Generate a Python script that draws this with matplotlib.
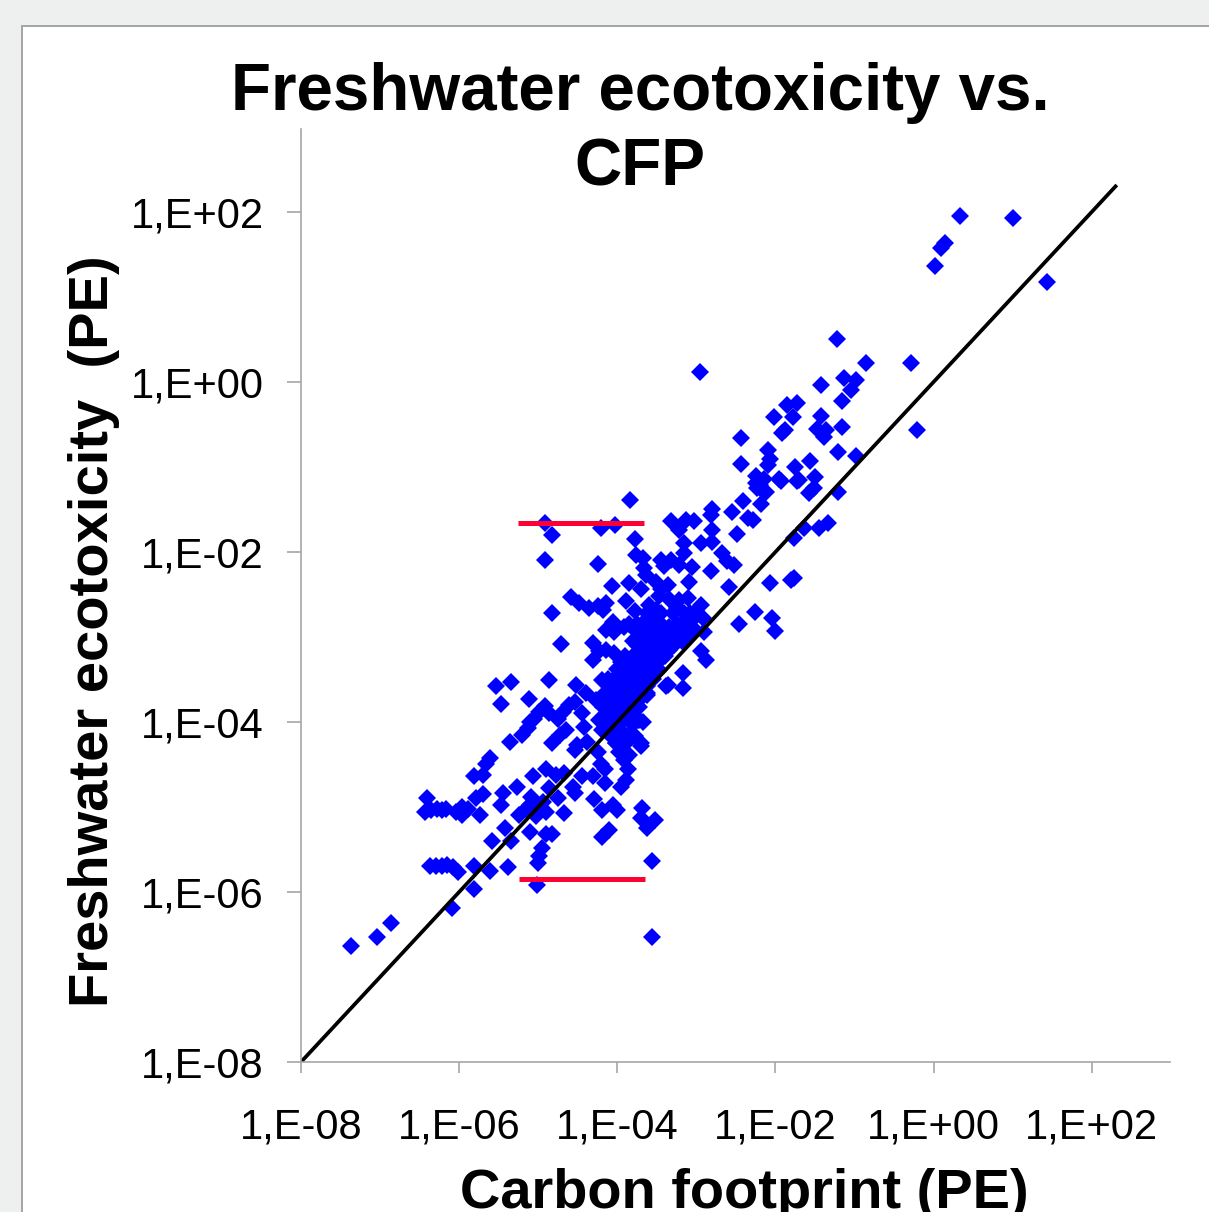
import numpy as np
import matplotlib
matplotlib.use('Agg')
import matplotlib.pyplot as plt
from matplotlib.patches import Rectangle

plt.rcParams['font.family'] = ['Liberation Sans', 'DejaVu Sans']

W, H = 1209, 1212

# Values, as log10 of PE
cfp_exp = [
    -7.37, -7.04, -6.86, -6.09, -5.81, -5.02, -3.56, -3.56,
    -6.37, -6.29, -6.22, -6.15, -6.08, -6.02, -5.81, -5.61, -5.38, -5.00, -4.99, -4.95,
    -5.59, -5.34, -5.42, -5.11, -4.90, -4.83, -4.19, -4.11, -3.62, -3.52, -3.70, -3.69,
    -6.41, -6.43, -6.35, -6.28, -6.22, -6.16, -6.04, -5.97, -5.97, -5.89, -5.73,
    -5.79, -5.70, -5.47, -5.44, -5.27, -5.07, -5.81, -5.70, -5.66, -5.61, -5.36,
    -5.47, -5.12, -5.54, -5.34, -4.86,
    -5.20, -5.13, -5.11, -5.05, -4.99, -4.92, -4.86, -4.75, -4.69, -4.61, -4.54,
    -4.82, -4.73, -4.65, -4.44, -4.42, -4.53, -4.51, -4.38, -4.25, -4.21, -4.16,
    -4.90, -4.78, -4.67, -4.56, -4.54, -4.44, -4.31, -4.15, -4.29,
    -3.95, -3.89, -3.87, -4.19, -4.06, -4.00,
    -5.09, -5.15, -5.24, -5.03, -4.90, -4.86, -4.75, -4.94, -4.68, -5.11, -5.01,
    -4.02, -3.93, -3.85, -3.70, -3.85, -3.97, -3.74, -3.68, -3.83,
    -4.23, -4.10, -4.19, -4.06, -3.93, -3.85, -3.72, -3.62, -3.38, -4.52, -4.40, -4.27,
    -3.84, -4.91, -4.82, -4.21, -4.03, -3.78, -4.91, -4.24,
    -3.76, -3.68, -3.66, -3.64, -3.45, -3.32, -3.41, -3.22, -3.06,
    -4.07, -3.85, -3.70, -3.51, -3.36, -3.45, -3.09, -2.81, -2.59,
    -4.59, -4.49, -4.36, -4.25, -4.14, -4.18, -4.82, -3.89, -3.78,
    -3.60, -3.47, -3.51, -3.34, -3.22, -3.11, -3.24, -3.15, -2.94, -3.00, -2.92,
    -4.06, -4.14, -4.04, -3.91, -4.71, -4.31, -4.23, -4.31, -4.14, -4.04,
    -3.68, -3.51, -3.34, -3.17, -3.72, -3.55, -3.38, -3.24, -3.68, -3.51, -3.34,
    -3.05, -3.09, -2.90, -2.94, -2.88, -2.46, -2.26, -2.04, -2.00,
    -2.07, -1.80, -1.76, -1.76,
    -3.81, -3.68, -3.55, -3.43, -3.85, -3.72, -3.60, -3.47, -4.06, -3.93, -3.81, -3.68, -4.19, -3.97,
    -3.17, -3.36, -3.17, -3.62, -3.72,
    -4.06, -3.93, -3.81, -4.02, -3.87, -3.72, -4.10, -3.97, -3.85, -4.02, -3.89, -3.70,
    -3.32, -3.22, -3.13, -3.03, -3.15, -3.15, -2.94, -2.80, -2.80, -2.80, -2.82,
    -2.67, -2.61, -2.52, -2.55, -2.41, -2.35, -2.29, -2.48,
    -2.18, -2.18, -2.12, -2.25, -1.93, -1.73,
    -2.95, -1.22, -0.85, -0.29, -0.21, 0.33, 1.01, 0.15, 0.10, 0.02, 1.43,
    -1.42, -1.13, -0.98, -1.05, -1.16, -1.86, -1.73, -1.78, -2.02, -1.88, -1.92,
    -1.42, -1.47, -1.36, -1.38, -1.16, -2.43, -1.21, -0.98, -2.10, -2.07, -2.09, -2.44,
    -1.56, -1.75, -1.70, -1.50, -1.95, -2.25, -2.14, -2.20, -2.14, -2.23,
    -1.51, -1.58, -1.21, -1.34, -1.45, -1.64,
    # dense core along the 1:1 line
    -3.85, -3.75, -3.62, -3.45, -3.25, -3.10,
    -3.78, -3.65, -3.55, -3.42, -3.30, -3.18, -3.02,
    -3.80, -3.62, -3.48, -3.40, -3.30, -3.18,
    -3.75, -3.60, -3.44, -3.28,
    -3.90, -3.75, -3.62, -3.50, -3.40,
    -3.95, -3.85, -3.75, -3.60, -3.48,
    -4.00, -3.90, -3.78, -3.65, -3.55,
    -4.12, -4.00, -3.88, -3.78, -3.66, -3.55,
    -4.10, -3.85, -3.75, -3.62,
    -4.15, -4.02, -3.92, -3.78, -3.68,
    -4.12, -3.90, -3.80,
    -4.18, -4.05, -3.82, -3.72,
    -4.00, -3.92, -3.82,
    -4.12, -3.98, -3.80,
    -4.08, -3.95, -3.78,
    -3.98, -3.90, -3.92,
    -3.62, -3.45, -3.30, -3.08,
]
ecotox_exp = [
    -6.63, -6.53, -6.36, -6.19, -5.96, -5.92, -6.53, -5.64,
    -5.69, -5.69, -5.69, -5.68, -5.71, -5.76, -5.70, -5.75, -5.71, -5.66, -5.58, -5.48,
    -5.40, -5.40, -5.25, -5.29, -5.32, -5.32, -5.35, -5.27, -5.25, -5.15, -5.13, -5.01,
    -4.89, -5.06, -5.04, -5.02, -5.03, -5.02, -5.06, -5.00, -5.09, -5.02, -5.10,
    -4.89, -4.85, -4.98, -4.84, -4.77, -4.63, -4.64, -4.62, -4.49, -4.42, -4.24,
    -3.79, -3.73, -3.58, -3.53, -3.51,
    -4.15, -4.07, -4.00, -3.96, -3.88, -3.81, -3.90, -3.96, -3.88, -3.80, -3.76,
    -4.25, -4.15, -4.09, -3.89, -4.06, -4.33, -4.27, -4.24, -4.35, -4.49, -4.55,
    -4.55, -4.62, -4.60, -4.76, -4.84, -4.64, -4.64, -4.72, -4.91,
    -4.76, -4.68, -4.55, -5.04, -4.98, -5.04,
    -4.88, -5.02, -5.09, -5.11, -5.06, -4.78, -4.90, -4.94, -5.07, -4.98, -4.98,
    -4.25, -4.33, -4.39, -4.28, -4.17, -4.09, -3.98, -4.00, -3.86,
    -3.98, -3.90, -4.09, -3.74, -3.62, -3.58, -3.54, -3.68, -3.58, -3.56, -3.66, -3.74,
    -1.39, -1.66, -1.80, -1.72, -1.68, -1.85, -2.09, -2.14,
    -2.04, -2.07, -2.19, -2.27, -2.09, -2.09, -2.16, -2.15, -2.18,
    -2.40, -2.36, -2.43, -2.35, -2.39, -2.43, -2.35, -2.22, -2.41,
    -2.53, -2.60, -2.66, -2.64, -2.60, -2.68, -2.72, -2.58, -2.70,
    -2.62, -2.52, -2.68, -2.55, -2.56, -2.54, -2.66, -2.72, -2.62, -2.70, -2.78,
    -2.82, -2.92, -2.94, -2.88, -3.08, -3.07, -3.17, -3.27, -3.15, -3.19,
    -2.84, -2.80, -2.88, -2.84, -3.00, -2.98, -3.00, -3.02, -3.15, -3.15, -3.15,
    -2.80, -2.96, -2.94, -3.17, -3.27, -2.85, -2.71, -2.78, -2.93,
    -2.37, -2.33, -2.31, -1.84,
    -3.24, -3.32, -3.26, -3.20, -3.43, -3.46, -3.45, -3.39, -3.51, -3.58, -3.62, -3.60, -3.51, -3.43,
    -3.42, -3.56, -3.60, -3.66, -3.74,
    -3.74, -3.82, -3.78, -3.94, -3.98, -3.98, -4.09, -4.13, -4.17, -4.25, -4.25, -4.25,
    -1.64, -1.74, -1.62, -1.64, -1.90, -2.01, -1.90, -1.74, -1.88, -1.49, -1.56,
    -2.01, -2.11, -2.15, -1.53, -1.40, -1.60, -1.62, -1.79,
    -1.44, -1.25, -1.29, -1.19, -1.17, -1.17,
    0.12, 0.51, 0.22, 0.22, -0.57, 1.95, 1.93, 1.63, 1.58, 1.37, 1.18,
    -0.03, 0.05, 0.02, -0.09, -0.22, -0.27, -0.25, -0.41, -0.41, -0.56, -0.60,
    -0.40, -0.55, -0.56, -0.65, -0.53, -0.66, -0.82, -0.87, -0.80, -0.91, -0.98, -0.96,
    -0.93, -1.00, -1.15, -1.12, -1.14, -1.11, -1.14, -1.21, -1.29, -1.25,
    -1.25, -1.31, -1.30, -1.66, -1.72, -1.72,
    # dense core along the 1:1 line
    -2.85, -2.85, -2.85, -2.85, -2.85, -2.85,
    -2.92, -2.92, -2.92, -2.92, -2.92, -2.92, -2.92,
    -3.05, -3.05, -3.05, -3.05, -3.05, -3.05,
    -3.10, -3.10, -3.10, -3.10,
    -3.22, -3.22, -3.22, -3.22, -3.22,
    -3.30, -3.30, -3.30, -3.30, -3.30,
    -3.38, -3.38, -3.38, -3.38, -3.38,
    -3.50, -3.50, -3.50, -3.50, -3.50, -3.50,
    -3.58, -3.58, -3.58, -3.58,
    -3.66, -3.66, -3.66, -3.66, -3.66,
    -3.74, -3.74, -3.74,
    -3.82, -3.82, -3.82, -3.82,
    -3.90, -3.90, -3.90,
    -4.02, -4.02, -4.02,
    -4.17, -4.17, -4.17,
    -4.35, -4.35, -4.45,
    -2.72, -2.72, -2.72, -2.72,
]

unity_line = [1e-8, 2e2]
red_top_x = [10**-5.25, 10**-3.66]
red_top_y = [10**-1.66, 10**-1.66]
red_bottom_x = [10**-5.24, 10**-3.65]
red_bottom_y = [10**-5.85, 10**-5.85]

tick_values = [1e-8, 1e-6, 1e-4, 1e-2, 1e0, 1e2]
tick_labels = ['1,E-08', '1,E-06', '1,E-04', '1,E-02', '1,E+00', '1,E+02']

fig = plt.figure(figsize=(W / 100, H / 100), dpi=100, facecolor='#eef0ef')

# White chart panel with a thin grey border, cut off by the image edge
fig.add_artist(Rectangle((22 / W, -0.02), 1.1, 1.02 - 26 / H, transform=fig.transFigure,
                         facecolor='white', edgecolor='#a3a5a5', linewidth=1.4, zorder=-1))

ax = fig.add_axes([301 / W, 1 - 1062 / H, 869 / W, 932.5 / H])
ax.patch.set_alpha(0)

ax.plot(10.0 ** np.array(cfp_exp), 10.0 ** np.array(ecotox_exp), linestyle='none', marker='D',
        markersize=9.0, color='#0000ff', markeredgewidth=0, clip_on=False)
ax.plot(unity_line, unity_line, color='black', linewidth=2.7)
ax.plot(red_top_x, red_top_y, color='#ff0033', linewidth=3.6, solid_capstyle='butt')
ax.plot(red_bottom_x, red_bottom_y, color='#ff0033', linewidth=3.6, solid_capstyle='butt')

ax.set_xscale('log')
ax.set_yscale('log')
ax.set_xlim(1e-8, 10**2.99)
ax.set_ylim(1e-8, 10**2.97)
ax.set_xticks(tick_values)
ax.set_xticklabels(tick_labels)
ax.set_yticks(tick_values)
ax.set_yticklabels(tick_labels)
ax.minorticks_off()

for side in ['top', 'right']:
    ax.spines[side].set_visible(False)
for side in ['left', 'bottom']:
    ax.spines[side].set_color('#a6a6a6')
    ax.spines[side].set_linewidth(1.2)

ax.tick_params(axis='x', length=8, width=1.2, color='#a6a6a6', labelsize=30, pad=25, labelcolor='black')
ax.tick_params(axis='y', length=10, width=1.2, color='#a6a6a6', labelsize=30, pad=17, labelcolor='black')

fig.text(640 / W, 1 - 110 / H, 'Freshwater ecotoxicity vs.', ha='center', va='baseline',
         fontsize=47.2, fontweight='bold')
fig.text(640 / W, 1 - 185 / H, 'CFP', ha='center', va='baseline', fontsize=47.2, fontweight='bold')
fig.text(744 / W, 1 - 1208 / H, 'Carbon footprint (PE)', ha='center', va='baseline',
         fontsize=40.3, fontweight='bold')
fig.text(94 / W, 1 - 631 / H, 'Freshwater ecotoxicity  (PE)', ha='center', va='center',
         rotation=90, fontsize=40.4, fontweight='bold', rotation_mode='anchor')

print(len(cfp_exp), len(ecotox_exp))
fig.savefig('out.png', dpi=100, facecolor=fig.get_facecolor())
